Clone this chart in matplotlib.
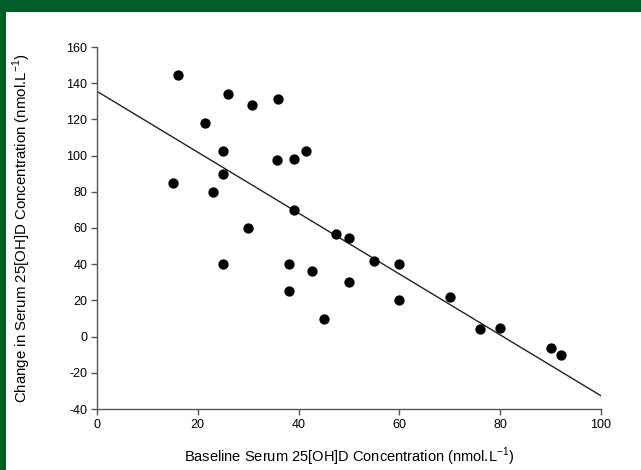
import numpy as np
from matplotlib import pyplot as plt
from matplotlib.patches import Rectangle

plt.rcParams['font.family'] = ['Liberation Sans', 'DejaVu Sans']
plt.rcParams['axes.unicode_minus'] = False

# baseline serum 25[OH]D (x) and change in serum 25[OH]D (y)
baseline = [15, 16, 21.4, 23, 25, 25, 25, 26, 30, 30.7, 36, 35.7, 38, 38, 39, 39,
            41.5, 42.7, 45, 47.4, 50, 50, 55, 60, 60, 70, 76, 80, 90, 92]
change = [85, 144.5, 118, 80, 102.5, 90, 40, 134, 60, 128, 131, 97.7, 40, 25, 98, 70,
          102.5, 36, 10, 56.5, 54.5, 30, 42, 40, 20, 22, 4, 5, -6.5, -10]

# regression line
intercept = 135.5
slope = -1.682
line_x = [0, 100]

fig = plt.figure(figsize=(6.41, 4.70), dpi=100)

# green frame on top and left
fig.patches.append(Rectangle((0, 1 - 12 / 470), 1, 12 / 470, transform=fig.transFigure,
                             facecolor='#005e28', edgecolor='none', zorder=0))
fig.patches.append(Rectangle((0, 0), 6 / 641, 1, transform=fig.transFigure,
                             facecolor='#005e28', edgecolor='none', zorder=0))

ax = fig.add_axes([97 / 641, 61 / 470, 504 / 641, 362 / 470])

ax.scatter(baseline, change, s=55, color='black', zorder=3, linewidths=0)
ax.plot(line_x, [intercept + slope * v for v in line_x], color='#222222', lw=1.0)

ax.set_xlim(0, 100)
ax.set_ylim(-40, 160)
ax.set_xticks(np.arange(0, 101, 20))
ax.set_yticks(np.arange(-40, 161, 20))

for s in ['top', 'right']:
    ax.spines[s].set_visible(False)
for s in ['left', 'bottom']:
    ax.spines[s].set_color('#555555')
    ax.spines[s].set_linewidth(1.0)
ax.tick_params(direction='out', length=4, width=1, color='#555555', labelsize=9, pad=3)

ax.set_xlabel('Baseline Serum 25[OH]D Concentration (nmol.L$^{\\mathregular{-1}}$)',
              fontsize=10.5, labelpad=11)
ax.set_ylabel('Change in Serum 25[OH]D Concentration (nmol.L$^{\\mathregular{-1}}$)',
              fontsize=10.8, labelpad=24)

fig.savefig('out.png', dpi=100)
